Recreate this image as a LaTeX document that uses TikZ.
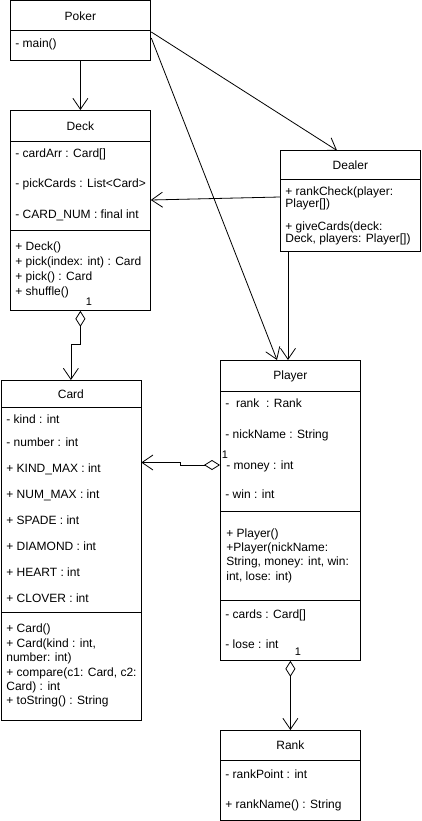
\documentclass[tikz,border=0pt]{standalone}
\usepackage{fontspec}
\setmainfont{Liberation Sans}
\usetikzlibrary{arrows.meta,calc}
\begin{document}
\begin{tikzpicture}[x=1pt,y=-1pt,
  font=\fontsize{12}{14.4}\selectfont,
  line width=0.8pt,
  box/.style={draw, inner sep=0pt, minimum width=140pt, anchor=north west},
  txt/.style={anchor=west, inner sep=0pt, text height=9pt, text depth=3pt},
  mult/.style={anchor=center, inner sep=0.5pt, font=\fontsize{11}{13}\selectfont},
  assoc/.style={-{Straight Barb[length=11pt,width=15pt,line width=0.8pt]}},
  aggr/.style={{Diamond[open,length=16pt,width=10pt,line width=0.8pt]}-{Straight Barb[length=11pt,width=15pt,line width=0.8pt]}}
]
\useasboundingbox (0,0) rectangle (421,821);

% ---------- Poker ----------
\node[box, minimum height=30pt] (pokerH) at (10,0.5) {Poker};
\node[box, minimum height=30pt] (pokerB) at (10,30.5) {};
\node[txt] (pk1) at (15,45) {- main()};

% ---------- Deck ----------
\node[box, minimum height=31pt] (deckH) at (10,110) {Deck};
\node[box, minimum height=89pt] (deckA) at (10,141) {};
\node[box, minimum height=80pt] (deckM) at (10,230) {};
\node[txt] (d1) at (15,155) {- cardArr : Card[]};
\node[txt] (d2) at (15,184) {- pickCards : List<Card>};
\node[txt] (d3) at (15,215) {- CARD\_NUM : final int};
\node[txt] (d4) at (15,247) {+ Deck()};
\node[txt] (d5) at (15,262) {+ pick(index: int) : Card};
\node[txt] (d6) at (15,277) {+ pick() : Card};
\node[txt] (d7) at (15,292) {+ shuffle()};

% ---------- Dealer ----------
\node[box, minimum height=29pt] (dealerH) at (280,150.5) {Dealer};
\node[box, minimum height=71pt] (dealerB) at (280,179.5) {};
\node[txt] (e1) at (285,192) {+ rankCheck(player:};
\node[txt] (e2) at (285,204) {Player[])};
\node[txt] (e3) at (285,227) {+ giveCards(deck:};
\node[txt] (e4) at (285,239) {Deck, players: Player[])};

% ---------- Player ----------
\node[box, minimum height=31pt] (playerH) at (220,360) {Player};
\node[box, minimum height=120pt] (playerA) at (220,391) {};
\node[box, minimum height=89pt] (playerM) at (220,511) {};
\node[box, minimum height=60pt] (playerC) at (220,600) {};
\node[txt] (p1) at (225,404) {-\ \ rank\ \ : Rank};
\node[txt] (p2) at (225,435) {- nickName : String};
\node[txt] (p3) at (226,466) {- money : int};
\node[txt] (p4) at (225,495) {- win : int};
\node[txt] (p5) at (226,534) {+ Player()};
\node[txt] (p6) at (226,548) {+Player(nickName:};
\node[txt] (p7) at (226,562) {String, money: int, win:};
\node[txt] (p8) at (226,577) {int, lose: int)};
\node[txt] (p9) at (225,615) {- cards : Card[]};
\node[txt] (p10) at (225,645) {- lose : int};

% ---------- Card ----------
\node[box, minimum height=27pt] (cardH) at (0.5,380) {Card};
\node[box, minimum height=205pt] (cardA) at (0.5,407) {};
\node[box, minimum height=108pt] (cardM) at (0.5,612) {};
\node[txt] (c1) at (6,420) {- kind : int};
\node[txt] (c2) at (6,443) {- number : int};
\node[txt] (c3) at (6,469) {+ KIND\_MAX : int};
\node[txt] (c4) at (6,495) {+ NUM\_MAX : int};
\node[txt] (c5) at (6,521) {+ SPADE : int};
\node[txt] (c6) at (6,547) {+ DIAMOND : int};
\node[txt] (c7) at (6,573) {+ HEART : int};
\node[txt] (c8) at (6,599) {+ CLOVER : int};
\node[txt] (c9) at (6,629) {+ Card()};
\node[txt] (c10) at (6,644) {+ Card(kind : int,};
\node[txt] (c11) at (6,658) {number: int)};
\node[txt] (c12) at (6,673) {+ compare(c1: Card, c2:};
\node[txt] (c13) at (6,687) {Card) : int};
\node[txt] (c14) at (6,701) {+ toString() : String};

% ---------- Rank ----------
\node[box, minimum height=30pt] (rankH) at (220,730) {Rank};
\node[box, minimum height=60pt] (rankB) at (220,760) {};
\node[txt] (r1) at (225,775) {- rankPoint : int};
\node[txt] (r2) at (225,805) {+ rankName() : String};

% ---------- connector end points ----------
\coordinate (pkA) at ($(pokerB.north east)+(0.5,1.5)$);
\coordinate (pkB) at ($(pokerB.north east)+(0.5,7.5)$);
\coordinate (dlIn) at ($(dealerH.north west)+(57,0)$);
\coordinate (plIn) at ($(playerH.north west)+(57,0)$);
\coordinate (dlOut) at ($(dealerB.north west)+(0,17.5)$);
\coordinate (dkIn) at ($(deckA.north east)+(0,59)$);
\coordinate (dlDown) at ($(dealerB.south west)+(8,0)$);
\coordinate (plTop) at ($(playerH.north west)+(68,0)$);
\coordinate (plAg) at ($(playerA.north west)+(0,74)$);
\coordinate (cdIn) at ($(cardA.north east)+(0,55.5)$);

\draw[assoc] (pokerB.south) -- (deckH.north);
\draw[assoc] (pkA) -- (dlIn);
\draw[assoc] (pkB) -- (plIn);
\draw[assoc] (dlOut) -- (dkIn);
\draw[assoc] (dlDown) -- (plTop);

\draw[aggr] (deckM.south) -- ++(0,34) -| (cardH.north);
\draw[aggr] (plAg) -- (180.5,465) -- (180.5,462.5) -- (cdIn);
\draw[aggr] (playerC.south) -- (rankH.north);

\node[mult] (m1) at (89,302) {1};
\node[mult] (m2) at (225,455) {1};
\node[mult] (m3) at (298,652) {1};
\end{tikzpicture}
\end{document}
